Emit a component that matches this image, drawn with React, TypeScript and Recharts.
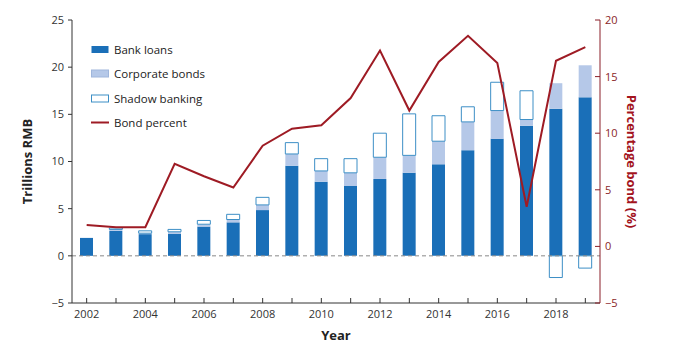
import React from "react";
import {
  ComposedChart,
  Bar,
  Line,
  XAxis,
  YAxis,
  ReferenceLine,
  Legend,
} from "recharts";

const years = ["2002","2003","2004","2005","2006","2007","2008","2009","2010","2011","2012","2013","2014","2015","2016","2017","2018","2019"];
const bankLoans = [1.9, 2.65, 2.3, 2.35, 3.1, 3.55, 4.85, 9.55, 7.85, 7.4, 8.15, 8.8, 9.7, 11.2, 12.4, 13.8, 15.6, 16.8];
const corporateBonds = [0, 0.15, 0.1, 0.2, 0.25, 0.3, 0.55, 1.25, 1.15, 1.4, 2.3, 1.85, 2.45, 3.0, 3.0, 0.65, 2.7, 3.4];
const shadowBanking = [0, 0.15, 0.25, 0.25, 0.4, 0.55, 0.8, 1.2, 1.3, 1.5, 2.55, 4.4, 2.7, 1.6, 3.0, 3.05, -2.3, -1.3];
const bondPercent = [1.9, 1.7, 1.7, 7.3, 6.2, 5.2, 8.9, 10.4, 10.7, 13.1, 17.3, 12.0, 16.3, 18.6, 16.2, 3.5, 16.4, 17.6];
const xTickLabels = ["2002", "2004", "2006", "2008", "2010", "2012", "2014", "2016", "2018"];
const leftTicks = [-5, 0, 5, 10, 15, 20, 25];
const rightTicks = [-5, 0, 5, 10, 15, 20];

const data = years.map((y, i) => ({
  year: y,
  bank: bankLoans[i],
  corp: corporateBonds[i],
  shadow: shadowBanking[i],
  bond: bondPercent[i],
}));

const FONT = "'Open Sans', sans-serif";
const BLUE = "#1a6fb8";
const LIGHT = "#b5c8e8";
const SHADOW_STROKE = "#3d8fc6";
const RED = "#9e1b24";
const AXIS = "#333333";
const RAXIS = "#8a1f28";

const fmt = (v: number) => (v < 0 ? "\u2212" + Math.abs(v) : String(v));

const BottomTick = (props: any) => {
  const { x, y, payload } = props;
  const label = payload.value;
  return (
    <g>
      <line x1={x} x2={x} y1={y} y2={y - 5} stroke={AXIS} strokeWidth={1} />
      {xTickLabels.includes(label) ? (
        <text x={x} y={y + 15} textAnchor="middle" fontSize={11} fill={AXIS} fontFamily={FONT}>
          {label}
        </text>
      ) : null}
    </g>
  );
};

const TopTick = (props: any) => {
  const { x, y } = props;
  return <line x1={x} x2={x} y1={y} y2={y + 5} stroke={AXIS} strokeWidth={1} />;
};

const RightTick = (props: any) => {
  const { x, y, payload } = props;
  return (
    <g>
      <line x1={x - 5} x2={x} y1={y} y2={y} stroke={RAXIS} strokeWidth={1} />
      <text x={x + 5} y={y} dy="0.355em" textAnchor="start" fontSize={11} fill={RAXIS} fontFamily={FONT}>
        {fmt(payload.value)}
      </text>
    </g>
  );
};

const legendItems = [
  { label: "Bank loans", kind: "bank" },
  { label: "Corporate bonds", kind: "corp" },
  { label: "Shadow banking", kind: "shadow" },
  { label: "Bond percent", kind: "line" },
];

const LegendContent = () => (
  <div style={{ fontFamily: FONT, fontSize: 11.5, color: "#222" }}>
    {legendItems.map((it) => (
      <div key={it.label} style={{ height: 24.5, display: "flex", alignItems: "center" }}>
        <svg width={18} height={9} style={{ marginRight: 5 }}>
          {it.kind === "bank" && <rect x={0.5} y={1} width={17} height={7} fill={BLUE} />}
          {it.kind === "corp" && <rect x={0.5} y={1} width={17} height={7} fill={LIGHT} stroke="#9fb6dc" strokeWidth={1} />}
          {it.kind === "shadow" && <rect x={0.5} y={1} width={17} height={7} fill="#fff" stroke={SHADOW_STROKE} strokeWidth={1} />}
          {it.kind === "line" && <line x1={0} x2={18} y1={4.5} y2={4.5} stroke={RED} strokeWidth={2} />}
        </svg>
        <span>{it.label}</span>
      </div>
    ))}
  </div>
);

export default function App() {
  return (
    <div style={{ position: "absolute", left: 0, top: 0, width: 676, height: 354, background: "#fff" }}>
      <ComposedChart
        width={676}
        height={354}
        data={data}
        stackOffset="sign"
        margin={{ top: 20, right: 0, bottom: 21, left: 0 }}
      >
        <XAxis
          dataKey="year"
          xAxisId="top"
          orientation="top"
          height={0}
          tickSize={0}
          tickMargin={0}
          tick={<TopTick />}
          interval={0}
          axisLine={{ stroke: AXIS }}
          tickLine={false}
        />
        <XAxis
          dataKey="year"
          xAxisId="bottom"
          height={30}
          tickSize={0}
          tickMargin={0}
          tick={<BottomTick />}
          interval={0}
          axisLine={{ stroke: AXIS }}
          tickLine={false}
          label={{ value: "Year", position: "insideBottom", offset: -7, style: { fontFamily: FONT, fontSize: 13, fontWeight: 700, fill: "#222" } }}
        />
        <YAxis
          yAxisId="left"
          width={72}
          domain={[-5, 25]}
          ticks={leftTicks}
          tickFormatter={fmt}
          tickSize={4}
          tickMargin={4}
          axisLine={{ stroke: AXIS }}
          tickLine={{ stroke: AXIS }}
          tick={{ fontSize: 11, fill: AXIS, fontFamily: FONT }}
          label={{ value: "Trillions RMB", angle: -90, position: "insideLeft", offset: 27, style: { textAnchor: "middle", fontFamily: FONT, fontSize: 13, fontWeight: 700, fill: "#222" } }}
        />
        <YAxis
          yAxisId="right"
          orientation="right"
          width={76}
          domain={[-5, 20]}
          ticks={rightTicks}
          tickSize={0}
          tickMargin={0}
          tick={<RightTick />}
          tickLine={false}
          axisLine={{ stroke: RAXIS }}
          label={{ value: "Percentage bond (%)", angle: 90, position: "insideRight", offset: 44, style: { textAnchor: "middle", fontFamily: FONT, fontSize: 13, fontWeight: 700, fill: "#a3141e" } }}
        />
        <Legend
          content={<LegendContent />}
          layout="vertical"
          align="center"
          verticalAlign="middle"
          wrapperStyle={{ left: 91, top: 37, width: 200 }}
        />
        <Bar dataKey="bank" stackId="a" xAxisId="bottom" yAxisId="left" fill={BLUE} barSize={13} isAnimationActive={false} />
        <Bar dataKey="corp" stackId="a" xAxisId="bottom" yAxisId="left" fill={LIGHT} barSize={13} isAnimationActive={false} />
        <Bar dataKey="shadow" stackId="a" xAxisId="bottom" yAxisId="left" fill="#ffffff" stroke={SHADOW_STROKE} strokeWidth={1} barSize={13} isAnimationActive={false} />
        <ReferenceLine y={0} xAxisId="bottom" yAxisId="left" stroke="#888" strokeDasharray="4 3" />
        <Line dataKey="bond" xAxisId="bottom" yAxisId="right" type="linear" stroke={RED} strokeWidth={2} dot={false} isAnimationActive={false} />
      </ComposedChart>
    </div>
  );
}
